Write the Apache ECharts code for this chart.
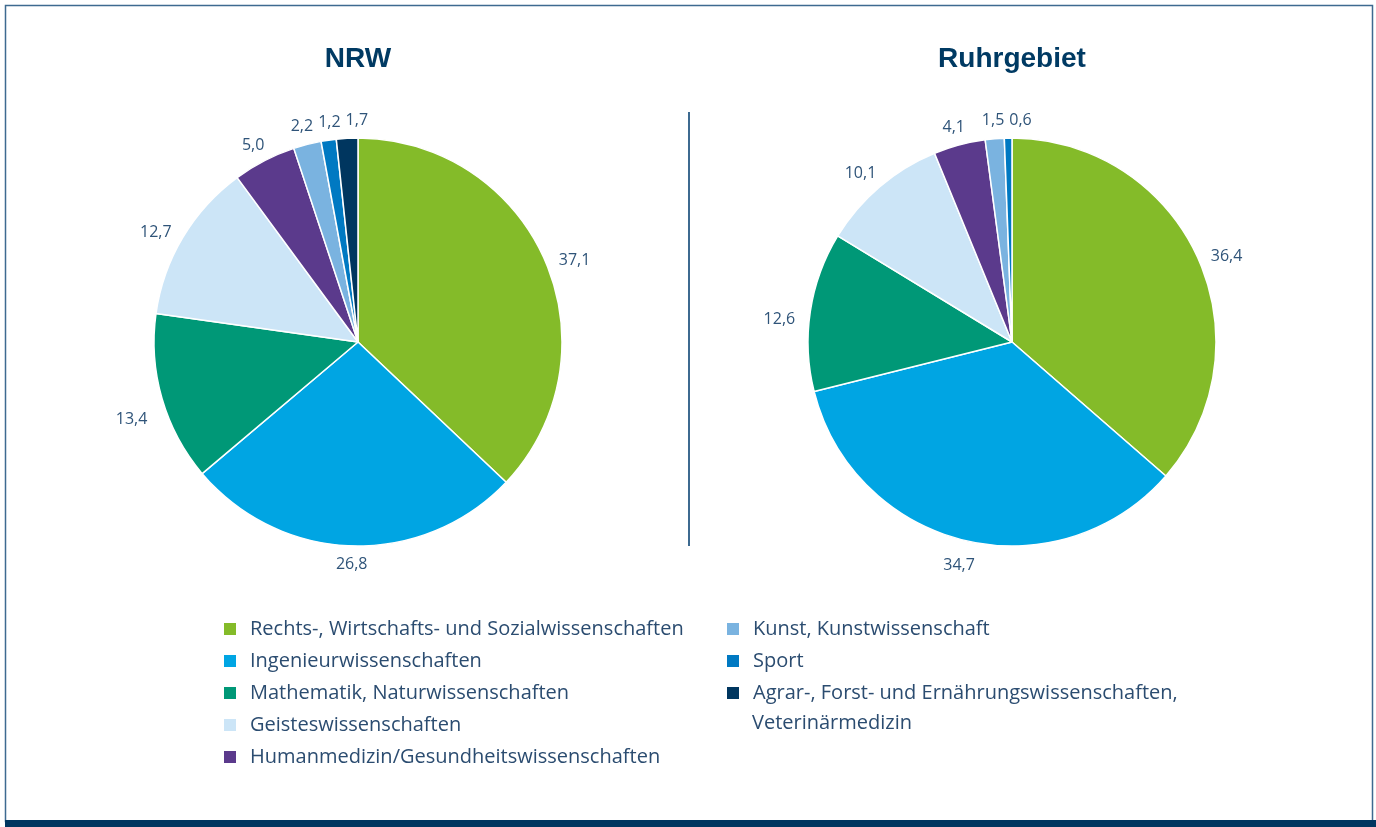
<!DOCTYPE html>
<html>
<head>
<meta charset="utf-8">
<script src="https://cdn.jsdelivr.net/npm/echarts@6/dist/echarts.min.js"></script>
<style>
  html, body { margin: 0; padding: 0; background: #fff; }
  #chart { width: 1376px; height: 827px; }
</style>
</head>
<body>
<div id="chart"></div>
<script>
// Fächergruppen (Anteile in %)
var categories = [
  'Rechts-, Wirtschafts- und Sozialwissenschaften',
  'Ingenieurwissenschaften',
  'Mathematik, Naturwissenschaften',
  'Geisteswissenschaften',
  'Humanmedizin/Gesundheitswissenschaften',
  'Kunst, Kunstwissenschaft',
  'Sport',
  'Agrar-, Forst- und Ernährungswissenschaften, Veterinärmedizin'
]
var nrwValues = [37.1, 26.8, 13.4, 12.7, 5.0, 2.2, 1.2, 1.7]
// Ruhrgebiet: keine Agrarwissenschaften
var ruhrValues = [36.4, 34.7, 12.6, 10.1, 4.1, 1.5, 0.6, null]
var titles = ['NRW', 'Ruhrgebiet']

var colorList = ['#84bb29', '#00a5e3', '#009877', '#cce5f7', '#5b3a8c', '#7ab3e0', '#0079c2', '#00365f']
var fontFamily = '"Liberation Sans", Arial, sans-serif'
var legendFont = '"Open Sans", "Liberation Sans", sans-serif'
var labelColor = '#2f5479'
var textColor = '#2b4c70'

var chart = echarts.init(document.getElementById('chart'))

function buildData (values) {
  var list = []
  values.forEach(function (v, i) {
    if (v === null) return
    list.push({ name: categories[i], value: v, itemStyle: { color: colorList[i] } })
  })
  return list
}

// Label mittig ausserhalb des Segments setzen, oben kleine Werte seitlich auseinanderschieben
function placeLabel (p) {
  var pts = p.labelLinePoints
  if (!pts) return { align: 'center', verticalAlign: 'middle' }
  var dx = pts[1][0] - pts[0][0]
  var dy = pts[1][1] - pts[0][1]
  var len = Math.sqrt(dx * dx + dy * dy) || 1
  dx /= len
  dy /= len
  var ext = Math.abs(dx) * (p.labelRect.width / 2 + 2) + Math.abs(dy) * p.labelRect.height / 2
  var res = {
    x: pts[1][0] + dx * ext,
    y: pts[1][1] + dy * ext + Math.abs(dx) * 13,
    align: 'center',
    verticalAlign: 'middle'
  }
  if (dy < -0.8) res.moveOverlap = 'shiftX'
  return res
}

function pieSeries (name, center, values) {
  return {
    name: name,
    type: 'pie',
    center: center,
    radius: 204,
    startAngle: 90,
    clockwise: true,
    avoidLabelOverlap: false,
    itemStyle: {
      borderColor: '#ffffff',
      borderWidth: 1.5
    },
    label: {
      show: true,
      position: 'outside',
      color: labelColor,
      fontFamily: legendFont,
      fontSize: 16,
      padding: [0, 2.5],
      backgroundColor: 'rgba(255,255,255,0)',
      formatter: function (p) {
        return p.value.toFixed(1).replace('.', ',')
      }
    },
    labelLine: {
      show: true,
      length: 10,
      length2: 0,
      lineStyle: { opacity: 0 }
    },
    labelLayout: placeLabel,
    emphasis: { disabled: true },
    data: buildData(values)
  }
}

var legendText = {
  color: textColor,
  fontFamily: legendFont,
  fontSize: 20,
  lineHeight: 22,
  padding: [0, 0, 0, 8]
}

var titleStyle = { color: '#003a63', fontFamily: fontFamily, fontSize: 28, fontWeight: 'bold' }

var option = {
  animation: false,
  title: [
    { text: titles[0], left: 358, top: 45, padding: 0, textAlign: 'center', textStyle: titleStyle },
    { text: titles[1], left: 1012, top: 45, padding: 0, textAlign: 'center', textStyle: titleStyle }
  ],
  legend: [
    {
      orient: 'vertical',
      left: 222,
      top: 618,
      padding: 0,
      icon: 'rect',
      itemWidth: 14,
      itemHeight: 14,
      itemGap: 10,
      selectedMode: false,
      textStyle: legendText,
      data: categories.slice(0, 5)
    },
    {
      orient: 'vertical',
      left: 725,
      top: 618,
      padding: 0,
      icon: 'rect',
      itemWidth: 14,
      itemHeight: 14,
      itemGap: 10,
      selectedMode: false,
      textStyle: legendText,
      formatter: function (name) {
        return name === categories[7] ? 'Agrar-, Forst- und Ernährungswissenschaften,' : name
      },
      data: categories.slice(5)
    }
  ],
  graphic: [
    {
      type: 'rect',
      shape: { x: 5.5, y: 5.5, width: 1367, height: 816 },
      style: { fill: 'none', stroke: '#3d6a90', lineWidth: 1.5 }
    },
    {
      type: 'rect',
      shape: { x: 5, y: 820, width: 1371, height: 7 },
      style: { fill: '#003660' }
    },
    {
      type: 'line',
      shape: { x1: 689, y1: 112, x2: 689, y2: 546 },
      style: { stroke: '#3d6a90', lineWidth: 2 }
    },
    {
      type: 'text',
      left: 752,
      top: 713,
      style: {
        text: 'Veterinärmedizin',
        fill: textColor,
        font: '20px ' + legendFont
      }
    }
  ],
  series: [
    pieSeries(titles[0], [358, 342], nrwValues),
    pieSeries(titles[1], [1012, 342], ruhrValues)
  ]
}

chart.setOption(option)
</script>
</body>
</html>
